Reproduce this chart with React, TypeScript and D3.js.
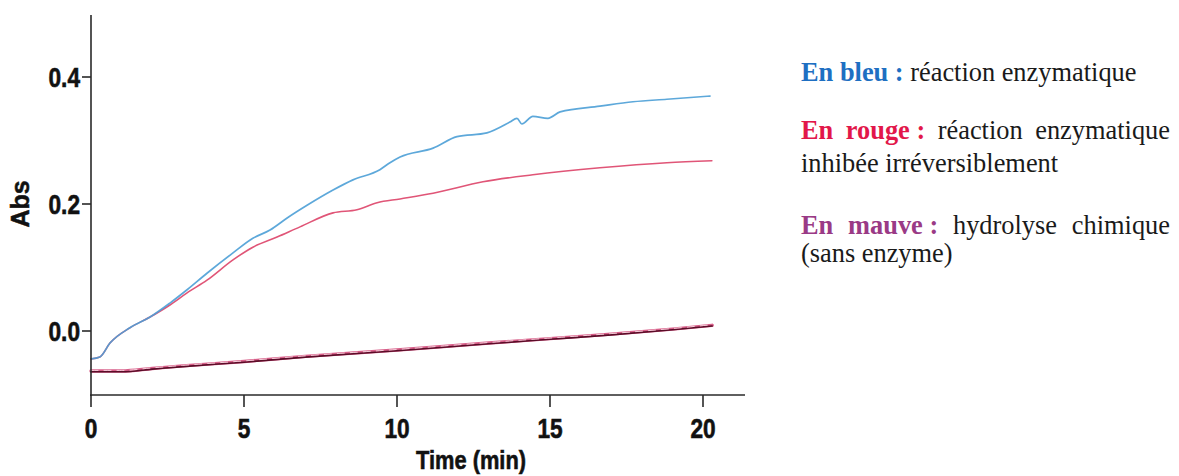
import React, { useLayoutEffect, useRef } from "react";
import * as d3 from "d3";

// ---- data ----
const xTicks = [0, 5, 10, 15, 20];
const yTicks = [0.0, 0.2, 0.4];

const blueTime = [0, 0.29, 0.62, 1.27, 1.93, 2.58, 3.14, 3.79, 4.64, 5.29, 5.85, 6.41, 7.06, 7.91, 8.56, 9.44, 9.77, 10.1, 11.18, 11.96, 12.94, 13.69, 13.92, 14.08, 14.44, 14.93, 15.33, 16.63, 17.71, 18.82, 20.23];
const blueAbs = [-0.044, -0.041, -0.019, 0.005, 0.022, 0.044, 0.065, 0.091, 0.123, 0.146, 0.159, 0.178, 0.198, 0.222, 0.238, 0.254, 0.265, 0.274, 0.288, 0.306, 0.312, 0.329, 0.335, 0.326, 0.338, 0.335, 0.345, 0.354, 0.361, 0.365, 0.370];

const redTime = [0, 0.29, 0.62, 1.27, 1.93, 2.58, 3.14, 3.79, 4.64, 5.29, 6.08, 6.83, 7.91, 8.69, 9.35, 10.1, 11.18, 12.81, 14.44, 16.63, 18.82, 20.29];
const redAbs = [-0.044, -0.041, -0.019, 0.005, 0.022, 0.041, 0.060, 0.080, 0.112, 0.132, 0.148, 0.164, 0.186, 0.191, 0.202, 0.208, 0.217, 0.235, 0.246, 0.257, 0.265, 0.268];

const mauveTime = [0, 1, 2, 3, 5, 7, 10, 13, 15, 17, 19, 20.3];
const mauveAbs = [-0.063, -0.063, -0.059, -0.055, -0.048, -0.040, -0.030, -0.019, -0.012, -0.005, 0.003, 0.009];

const legendColors = { blue: "#1e6fc2", red: "#e2174a", mauve: "#9a3a86", text: "#1a1a1a" };

type Word = { t: string; c: string; b?: boolean };
type Line = { y: number; justify: boolean; words: Word[] };
const legendLines: Line[] = [
  { y: 81, justify: false, words: [{ t: "En bleu :", c: legendColors.blue, b: true }, { t: "réaction", c: legendColors.text }, { t: "enzymatique", c: legendColors.text }] },
  { y: 139, justify: true, words: [{ t: "En", c: legendColors.red, b: true }, { t: "rouge :", c: legendColors.red, b: true }, { t: "réaction", c: legendColors.text }, { t: "enzymatique", c: legendColors.text }] },
  { y: 172, justify: false, words: [{ t: "inhibée", c: legendColors.text }, { t: "irréversiblement", c: legendColors.text }] },
  { y: 234, justify: true, words: [{ t: "En", c: legendColors.mauve, b: true }, { t: "mauve :", c: legendColors.mauve, b: true }, { t: "hydrolyse", c: legendColors.text }, { t: "chimique", c: legendColors.text }] },
  { y: 262, justify: false, words: [{ t: "(sans", c: legendColors.text }, { t: "enzyme)", c: legendColors.text }] },
];

const W = 1179;
const H = 476;
const tickFont = "'Liberation Sans', Arial, sans-serif";
const serif = "'Liberation Serif', 'Times New Roman', serif";
const condense = 0.84;

export default function App() {
  const x = d3.scaleLinear().domain([0, 20]).range([91, 703]);
  const y = d3.scaleLinear().domain([0, 0.4]).range([331, 77]);
  const legendRef = useRef<SVGGElement>(null);

  const mk = (ts: number[], vs: number[], curve: d3.CurveFactory) =>
    d3.line<number>().x((_, i) => x(ts[i])).y((v) => y(v)).curve(curve)(vs) || "";

  const bluePath = mk(blueTime, blueAbs, d3.curveMonotoneX);
  const redPath = mk(redTime, redAbs, d3.curveMonotoneX);
  const mauvePath = mk(mauveTime, mauveAbs, d3.curveMonotoneX);

  const left = 801;
  const right = 1170;

  useLayoutEffect(() => {
    const g = legendRef.current;
    if (!g) return;
    const sel = d3.select(g);
    sel.selectAll("*").remove();
    legendLines.forEach((line) => {
      const nodes: SVGTextElement[] = [];
      line.words.forEach((w) => {
        const t = sel
          .append("text")
          .attr("y", line.y)
          .attr("font-family", serif)
          .attr("font-size", 26.4)
          .attr("font-weight", w.b ? "bold" : "normal")
          .attr("fill", w.c)
          .text(w.t);
        nodes.push(t.node() as SVGTextElement);
      });
      const widths = nodes.map((n) => n.getComputedTextLength());
      const sum = d3.sum(widths);
      const space = 6.5;
      const gap = line.justify && nodes.length > 1 ? (right - left - sum) / (nodes.length - 1) : space;
      let cx = left;
      nodes.forEach((n, i) => {
        n.setAttribute("x", String(cx));
        cx += widths[i] + gap;
      });
    });
  }, []);

  const axisColor = "#2a2a2a";

  return (
    <svg width={W} height={H} style={{ position: "absolute", left: 0, top: 0, background: "#fff" }}>
      {/* curves */}
      <g fill="none" strokeLinejoin="round" strokeLinecap="round">
        <path d={mauvePath} stroke="#d8608a" strokeWidth={3.4} />
        <path d={mauvePath} stroke="#5a0d28" strokeWidth={1.6} transform="translate(0,0.7)" />
        <path d={mauvePath} stroke="#f4cdd9" strokeWidth={1} strokeDasharray="7 6" transform="translate(0,-0.6)" />
        <path d={redPath} stroke="#e05577" strokeWidth={1.6} />
        <path d={bluePath} stroke="#4b9fd6" strokeWidth={1.7} opacity={0.9} />
      </g>

      {/* axes */}
      <g stroke={axisColor} strokeWidth={1.6}>
        <line x1={91} x2={91} y1={15} y2={396} />
        <line x1={90} x2={745} y1={395} y2={395} />
        {yTicks.map((v) => (
          <line key={v} x1={82} x2={91} y1={y(v)} y2={y(v)} />
        ))}
        {xTicks.map((v) => (
          <line key={v} x1={x(v)} x2={x(v)} y1={395} y2={407} />
        ))}
      </g>

      {/* tick labels */}
      <g fontFamily={tickFont} fontWeight="bold" fontSize={27} fill="#111" stroke="#111" strokeWidth={0.6}>
        {yTicks.map((v) => (
          <text key={v} transform={`translate(80,${y(v) + 10}) scale(${condense},1)`} textAnchor="end">
            {d3.format(".1f")(v)}
          </text>
        ))}
        {xTicks.map((v) => (
          <text key={v} transform={`translate(${x(v)},438) scale(${condense},1)`} textAnchor="middle">
            {v}
          </text>
        ))}
        <text transform={`translate(471,469) scale(${condense},1)`} textAnchor="middle" fontSize={26}>
          Time (min)
        </text>
      </g>
      <text
        transform="translate(29,204) rotate(-90)"
        textAnchor="middle"
        fontFamily="'Liberation Sans', Arial, sans-serif"
        fontWeight="bold"
        fontSize={25}
        fill="#111"
        stroke="#111"
        strokeWidth={0.5}
      >
        Abs
      </text>

      <g ref={legendRef} />
    </svg>
  );
}
